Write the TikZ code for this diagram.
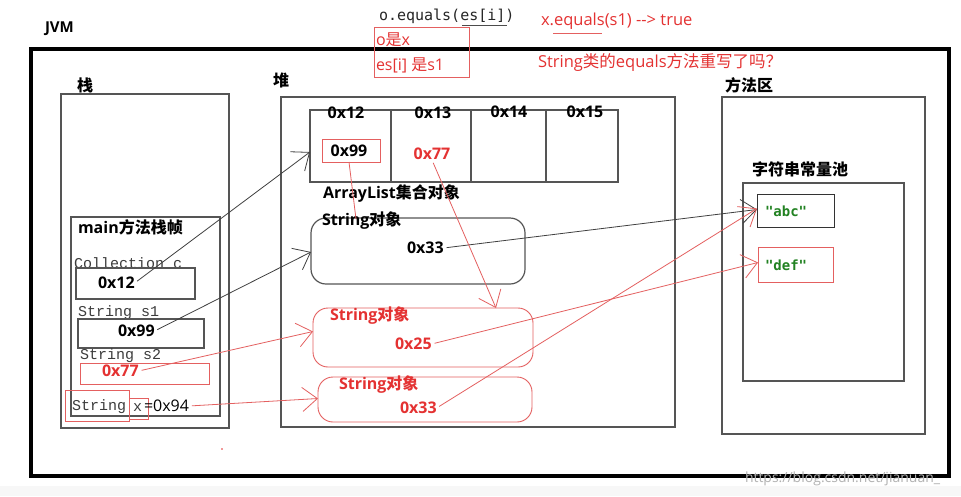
\documentclass[tikz,border=0pt]{standalone}
\usepackage{fontspec}
\setmainfont{Open Sans}
\newfontfamily\zh{Noto Sans CJK SC}
\newfontfamily\lmono{Liberation Mono}
\newfontfamily\dmono{DejaVu Sans Mono}
\usetikzlibrary{arrows.meta,calc}
\definecolor{rd}{RGB}{228,50,50}
\definecolor{rdl}{RGB}{228,96,96}
\definecolor{grn}{RGB}{34,130,34}
\definecolor{bx}{RGB}{85,85,85}
\definecolor{mono}{RGB}{60,60,60}
\begin{document}
\begin{tikzpicture}[x=1pt,y=-1pt,
  box/.style={draw=bx, line width=1.2pt, inner sep=0, outer sep=0},
  rbox/.style={draw=rdl, line width=0.9pt, inner sep=0, outer sep=0},
  obj/.style={box, rounded corners=15pt},
  robj/.style={rbox, rounded corners=15pt},
  t/.style={inner sep=0, outer sep=0, anchor=west},
  bl/.style={font=\bfseries\fontsize{16}{16}\selectfont},
  zb/.style={font=\zh\bfseries\fontsize{16}{16}\selectfont},
  rg/.style={font=\fontsize{16}{16}\selectfont},
  rgt/.style={font=\fontsize{16.5}{16.5}\selectfont},
  mn/.style={font=\lmono\fontsize{15}{15}\selectfont, text=mono},
  blk/.style={draw=black!75, line width=0.8pt, shorten <=3pt,
    -{Straight Barb[length=15pt,width=24pt,line width=0.8pt]}},
  red/.style={draw=rdl, line width=0.8pt, shorten <=3pt,
    -{Straight Barb[length=15pt,width=24pt,line width=0.8pt]}}
]
\useasboundingbox (0,0) rectangle (961,496);
\fill[white] (0,0) rectangle (961,496);
\fill[black!3] (0,486) rectangle (961,496);

% JVM frame
\node[draw=black, line width=4pt, minimum width=918pt, minimum height=427pt, inner sep=0] (jvm) at (490,262) {};
\node[t, font=\bfseries\fontsize{15}{15}\selectfont] (jvmlbl) at (45,29) {JVM};

% region boxes
\node[box, minimum width=168pt, minimum height=334pt] (stack) at (145,261) {};
\node[box, minimum width=394pt, minimum height=330pt] (heap) at (478,262) {};
\node[box, minimum width=203pt, minimum height=337pt] (meth) at (823.5,265.5) {};
\node[box, minimum width=161pt, minimum height=198pt] (pool) at (823.5,282) {};
\node[t, zb] (zhan) at (77,85) {栈};
\node[t, zb] (dui) at (273,80) {堆};
\node[t, zb] (fangfa) at (725,85) {方法区};
\node[t, zb] (poollbl) at (752,169) {字符串常量池};

% string pool entries
\node[box, line width=1pt, draw=black!80, minimum width=77pt, minimum height=33pt] (abc) at (795.5,210.5) {};
\node[rbox, minimum width=75pt, minimum height=35pt] (def) at (795.5,264.5) {};
\node[t, font=\dmono\bfseries\fontsize{14}{14}\selectfont, text=grn] (abct) at (765,211) {"abc"};
\node[t, font=\dmono\bfseries\fontsize{14}{14}\selectfont, text=grn] (deft) at (765,265) {"def"};

% array list
\node[box, minimum width=308pt, minimum height=72pt] (arr) at (464,146) {};
\draw[bx, line width=1.2pt] (arr.north west -| 391,0) -- (arr.south west -| 391,0);
\draw[bx, line width=1.2pt] (arr.north west -| 471,0) -- (arr.south west -| 471,0);
\draw[bx, line width=1.2pt] (arr.north west -| 546,0) -- (arr.south west -| 546,0);
\node[bl, inner sep=0] (a012) at (346,113) {0x12};
\node[bl, inner sep=0] (a013) at (433,113) {0x13};
\node[bl, inner sep=0] (a014) at (509,112) {0x14};
\node[bl, inner sep=0] (a015) at (585,112) {0x15};
\node[rbox, minimum width=58pt, minimum height=23pt] (a099box) at (351,150.5) {};
\node[bl, inner sep=0] (a099) at (349,151) {0x99};
\node[bl, inner sep=0, text=rd] (a077) at (432,154) {0x77};
\node[t, bl] (arrlbl) at (323,194) {ArrayList{\zh\bfseries 集合对象}};

% string objects
\node[obj, minimum width=214pt, minimum height=66pt] (sobj) at (418,251) {};
\node[t, bl] (sobjl) at (322,221) {String{\zh\bfseries 对象}};
\node[t, bl] (h033) at (407,248) {0x33};

\node[robj, minimum width=220pt, minimum height=59pt] (rs1) at (423,337.5) {};
\node[t, bl, text=rd] (rs1l) at (330,316) {String{\zh\bfseries 对象}};
\node[t, bl, text=rd] (r025) at (395,344) {0x25};

\node[robj, minimum width=214pt, minimum height=45pt] (rs2) at (425,399.5) {};
\node[t, bl, text=rd] (rs2l) at (339,385) {String{\zh\bfseries 对象}};
\node[t, bl, text=rd] (r033) at (400,408) {0x33};

% main frame
\node[box, minimum width=149pt, minimum height=199pt] (mainf) at (145.5,316.5) {};
\node[t, bl] (mainl) at (78,227) {main{\zh\bfseries 方法栈帧}};
\node[t, mn] (colc) at (74,263) {Collection c};
\node[box, minimum width=119pt, minimum height=31pt] (cbox) at (135.5,283.5) {};
\node[t, bl] (s012) at (98,283) {0x12};
\node[t, mn] (strs1) at (78,313) {String s1};
\node[box, minimum width=126pt, minimum height=29pt] (s1box) at (141,333.5) {};
\node[t, bl] (s099) at (118,331) {0x99};
\node[t, mn] (strs2) at (80,356) {String s2};
\node[rbox, minimum width=129pt, minimum height=21pt] (s2box) at (144.5,373.5) {};
\node[t, bl, text=rd] (s077) at (102,371) {0x77};
\node[rbox, minimum width=64pt, minimum height=31pt] (strbox) at (97,405.5) {};
\node[rbox, minimum width=19pt, minimum height=21pt] (xbox) at (138.5,408.5) {};
\node[t, mn] (strx) at (72,407) {String};
\node[t, mn] (xx) at (133,408) {x};
\node[t, rg] (s094) at (144,406) {=0x94};

% top annotations
\node[t, font=\dmono\fontsize{15}{15}\selectfont, text=black!85] (oeq) at (379,16) {o.equals(es[i])};
\coordinate (ul1a) at (462,25);
\coordinate (ul1b) at (507,25);
\draw[black!70, line width=0.7pt] (ul1a) -- (ul1b);
\node[rbox, minimum width=95pt, minimum height=50pt] (obox) at (421.5,52) {};
\node[t, rg, text=rd] (oisx) at (376,40) {o{\zh 是}x};
\node[t, rg, text=rd] (esis) at (376,65) {es[i] {\zh 是}s1};
\node[t, rgt, text=rd] (xeq) at (541,21) {x.equals(s1) -{}-> true};
\coordinate (ul2a) at (553,33);
\coordinate (ul2b) at (602,33);
\draw[rdl, line width=0.8pt] (ul2a) -- (ul2b);
\node[t, rgt, text=rd] (q) at (538,62) {String{\zh 类的}equals{\zh 方法重写了吗？}};

% connectors
\draw[blk] (s012.east) -- ($(arr.west)+(0,6)$);
\draw[blk] (s099.east) -- ($(sobj.west)+(0,1)$);
\draw[blk] (h033.east) -- ($(abc.west)+(0,-1)$);
\draw[rdl, line width=0.8pt] (a099box.south) ++(-2,0) -- ($(sobj.north west)+(45,1)$);
\draw[red] (a077.south) -- ($(rs1.north)+(73,0)$);
\draw[red] (s077.east) -- ($(rs1.west)+(0,-6)$);
\draw[red] (s094.east) -- ($(rs2.west)+(0,-1)$);
\draw[red] (r025.east) -- ($(def.west)+(0,-2)$);
\draw[red] (r033.east) -- ($(abc.west)+(0,-2)$);

% small marks
\fill[rd] (222,449) circle (0.8pt);
\node[t, font=\fontsize{14}{14}\selectfont, text=black!30] (wm) at (745,479) {https://blog.csdn.net/jianuan\_};
\end{tikzpicture}
\end{document}
